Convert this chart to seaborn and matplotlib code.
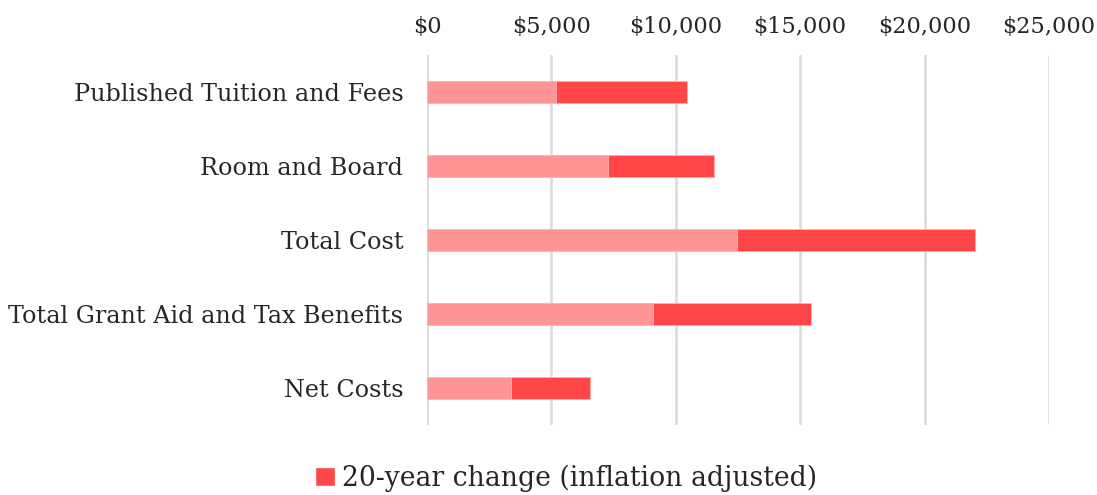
import pandas as pd
import numpy as np
import matplotlib.pyplot as plt
import seaborn as sns
from matplotlib.patches import Patch
from matplotlib.ticker import FuncFormatter

# valeurs (dollars)
categories = ['Published Tuition and Fees', 'Room and Board', 'Total Cost',
              'Total Grant Aid and Tax Benefits', 'Net Costs']
base_values = [5190, 7280, 12480, 9100, 3380]
change_values = [5280, 4250, 9540, 6320, 3180]
x_ticks = [0, 5000, 10000, 15000, 20000, 25000]

df = pd.DataFrame({'categorie': categories, 'base': base_values, 'change': change_values})
df['total'] = df['base'] + df['change']

sns.set_theme(style='white')
plt.rcParams['font.family'] = ['DejaVu Serif']

fig = plt.figure(figsize=(10.97, 4.95), dpi=100)
ax = fig.add_axes([0.3892, 0.141, 0.5670, 0.748])

# barre totale (rouge) puis base (rose) par dessus
sns.barplot(data=df, y='categorie', x='total', color='#FF4545', width=0.3,
            saturation=1, ax=ax, orient='h', linewidth=0.6, edgecolor='#FFB0B0')
sns.barplot(data=df, y='categorie', x='base', color='#FF9494', width=0.3,
            saturation=1, ax=ax, orient='h', linewidth=0.6, edgecolor='#FFB8B8')

ax.set_xlim(0, 25000)
ax.set_ylim(4.5, -0.5)
ax.set_xticks(x_ticks)
ax.xaxis.set_major_formatter(FuncFormatter(lambda v, p: '${:,.0f}'.format(v)))
ax.xaxis.tick_top()
ax.tick_params(axis='x', length=0, pad=12, labelsize=16.2, colors='#262626')
ax.tick_params(axis='y', length=0, pad=17, labelsize=17.2, colors='#262626')
ax.set_xlabel('')
ax.set_ylabel('')
ax.grid(axis='x', color='#D9D9D9', linewidth=1.8)
ax.set_axisbelow(True)
for s in ax.spines.values():
    s.set_visible(False)

handles = [Patch(facecolor='#FF4545', label='20-year change (inflation adjusted)')]
fig.legend(handles=handles, loc='center', bbox_to_anchor=(0.516, 0.034), frameon=False,
           fontsize=19.2, handlelength=0.75, handleheight=0.75, handletextpad=0.25,
           labelcolor='#262626')

plt.savefig('out.png', dpi=100)
